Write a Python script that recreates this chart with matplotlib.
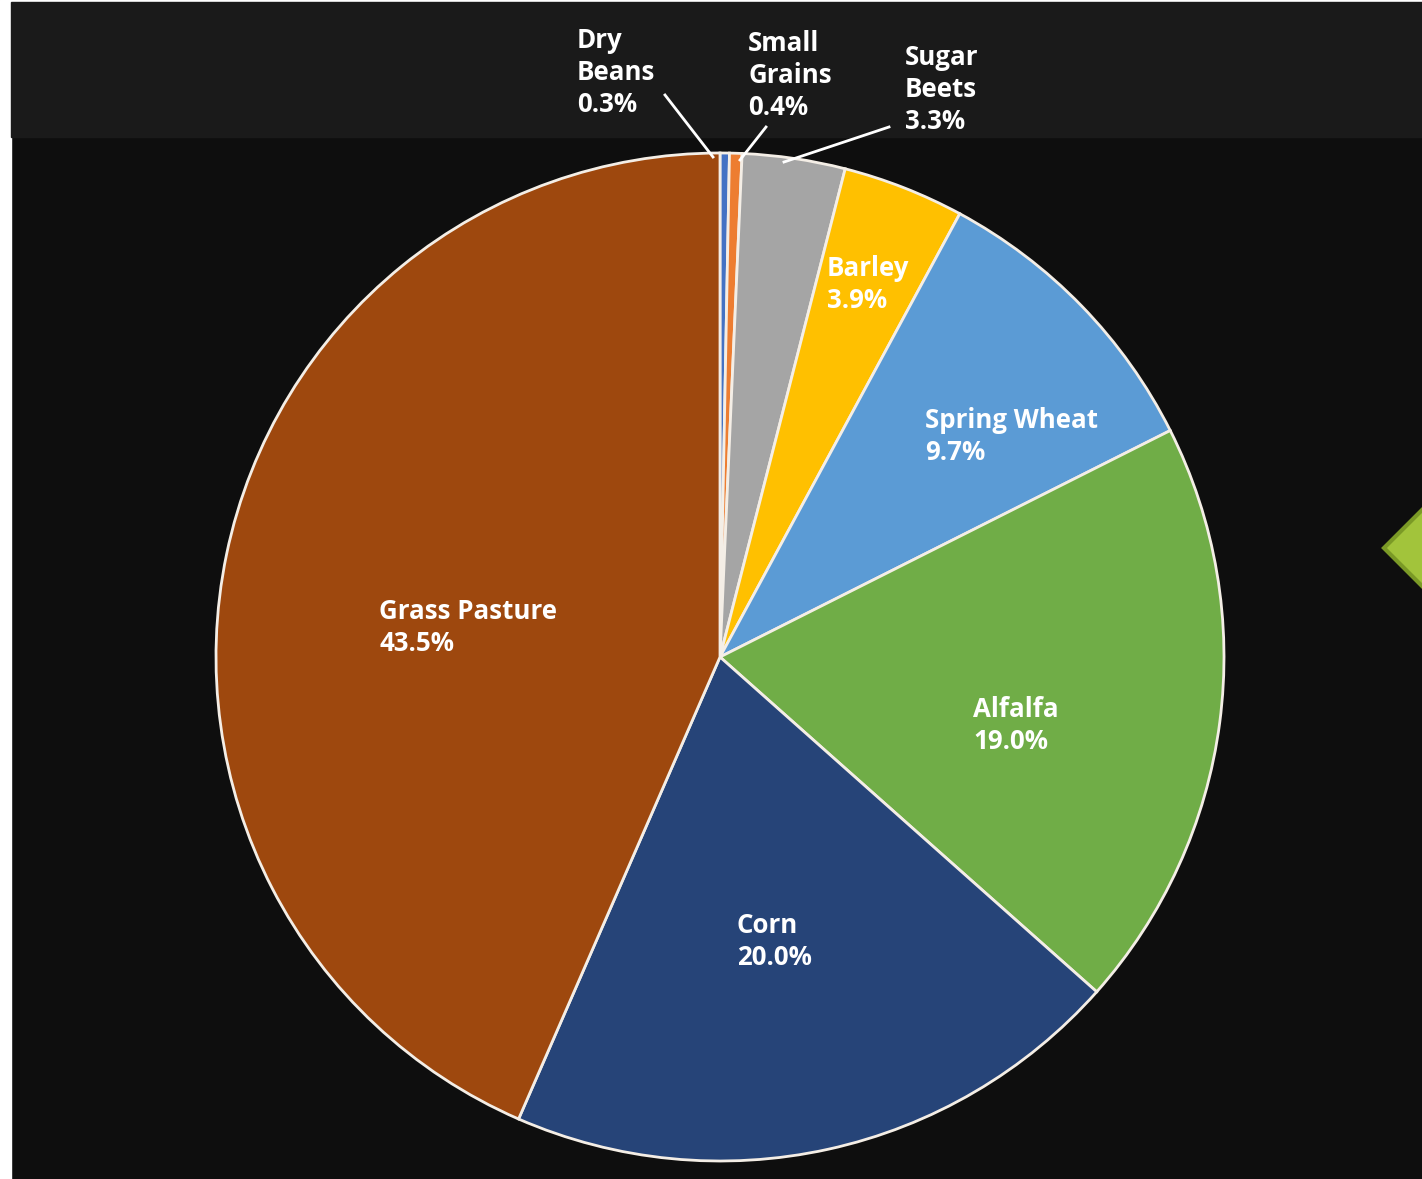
import matplotlib.pyplot as plt
from matplotlib.patches import Rectangle, Polygon

# crop shares (%), clockwise from 12 o'clock
crops = ["Dry\nBeans", "Small\nGrains", "Sugar\nBeets", "Barley", "Spring Wheat",
         "Alfalfa", "Corn", "Grass Pasture"]
shares = [0.3, 0.4, 3.3, 3.9, 9.7, 19.0, 20.0, 43.5]
colors = ["#4472c4", "#ed7d31", "#a5a5a5", "#ffc000", "#5b9bd5",
          "#70ad47", "#264478", "#9e480e"]

W, H = 1422, 1179
fig = plt.figure(figsize=(W / 100, H / 100), dpi=100, facecolor="#0e0e0e")
ax = fig.add_axes([0, 0, 1, 1])
ax.set_aspect("equal")

def py(y):
    # pixel row (from top) -> data y
    return H - y

# background pieces: white strips, grey header band, green tab at right
ax.add_patch(Rectangle((0, 0), 11, H, color="white", zorder=0))
ax.add_patch(Rectangle((0, py(2)), W, 2, color="white", zorder=0))
ax.add_patch(Rectangle((11, py(137)), W - 11, 135, color="#1a1a1a", zorder=0))
ax.add_patch(Polygon([(1384, py(548)), (1426, py(506)), (1426, py(590))],
                     closed=True, facecolor="#a2c43b", edgecolor="#7b9a26",
                     linewidth=3, zorder=1))

ax.pie(shares, colors=colors, startangle=90, counterclock=False,
       center=(720, py(657)), radius=504, frame=True,
       wedgeprops=dict(edgecolor="#f4eee6", linewidth=2))
ax.set_xlim(0, W)
ax.set_ylim(0, H)
ax.axis("off")

# label anchor (left, top of first line) in pixels
label_pos = [(577, 27), (748, 30), (905, 44), (827, 255), (925, 407),
             (973, 696), (737, 912), (379, 598)]
for name, val, (lx, ly) in zip(crops, shares, label_pos):
    ax.text(lx, py(ly), f"{name}\n{val:.1f}%", ha="left", va="top",
            color="white", fontsize=18.6, fontweight="bold",
            family="Open Sans", linespacing=1.24, zorder=5)

# leader lines for the thin slices
leaders = [((665, 95), (713, 157)), ((766, 127), (740, 160)), ((889, 127), (784, 162))]
for (x0, y0), (x1, y1) in leaders:
    ax.plot([x0, x1], [py(y0), py(y1)], color="white", linewidth=2, zorder=5)

fig.savefig("out.png", dpi=100, facecolor=fig.get_facecolor())
